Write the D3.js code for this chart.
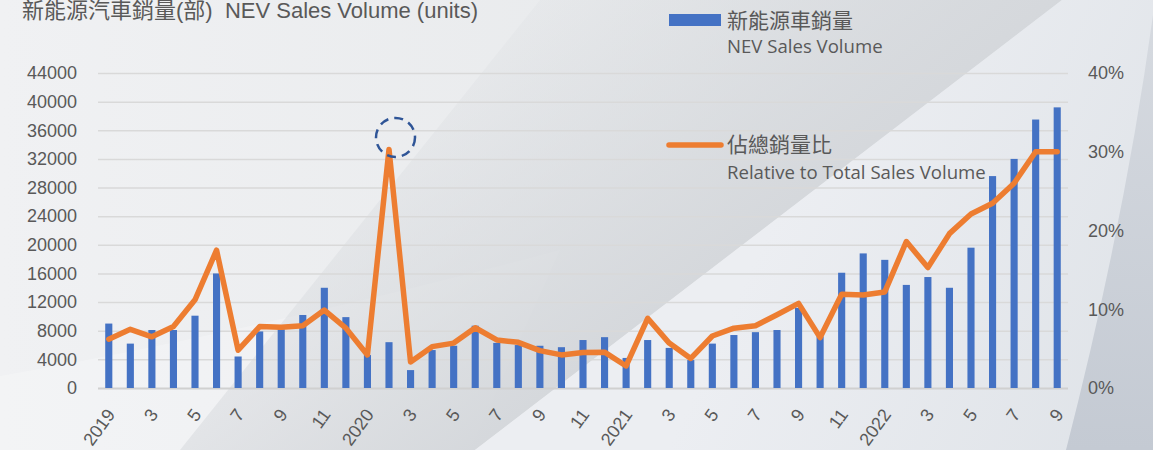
<!DOCTYPE html>
<html lang="zh-Hant">
<head>
<meta charset="utf-8">
<title>NEV Sales Volume</title>
<script src="https://cdn.jsdelivr.net/npm/d3@7"></script>
<style>
  html, body { margin: 0; padding: 0; overflow: hidden; }
  svg { display: block; }
</style>
</head>
<body>
<script>

// monthly data, 2019-01 .. 2022-09
var months = d3.range(45);
var sales = [
  9000, 6200, 8100, 8100, 10100, 16000, 4400, 7900, 8200, 10200, 14000, 9900,
  4600, 6400, 2500, 5300, 5900, 8700, 6300, 6000, 5900, 5700, 6700, 7100,
  4200, 6700, 5600, 3900, 6200, 7400, 7800, 8100, 11200, 7200, 16100, 18800,
  17900, 14400, 15500, 14000, 19600, 29600, 32000, 37500, 39200
];
var share = [
  6.2, 7.45, 6.5, 7.8, 11.2, 17.5, 4.8, 7.8, 7.7, 7.9, 9.9, 7.6,
  4.2, 30.3, 3.3, 5.25, 5.7, 7.65, 6.1, 5.8, 4.75, 4.2, 4.5, 4.55,
  2.8, 8.85, 5.7, 3.75, 6.6, 7.6, 7.9, 9.3, 10.75, 6.4, 11.9, 11.8,
  12.2, 18.6, 15.3, 19.6, 22.1, 23.45, 26.0, 30.0, 30.0
];
var xLabels = ["2019", "3", "5", "7", "9", "11", "2020", "3", "5", "7", "9", "11",
               "2021", "3", "5", "7", "9", "11", "2022", "3", "5", "7", "9"];
var leftTicks = d3.range(0, 44001, 4000);
var rightTicks = [0, 0.1, 0.2, 0.3, 0.4];

var width = 1153;
var height = 450;
var plotLeft = 98, plotRight = 1068, plotTop = 73, plotBottom = 388;

var svg = d3.select("body").append("svg")
            .attr("width", width)
            .attr("height", height);

// ---- background ----
var defs = svg.append("defs");

var bg = defs.append("linearGradient").attr("id", "bg")
             .attr("x1", 0).attr("y1", 0).attr("x2", 1).attr("y2", 0);
bg.append("stop").attr("offset", 0).attr("stop-color", "#f0f1f3");
bg.append("stop").attr("offset", 0.6).attr("stop-color", "#e8eaec");
bg.append("stop").attr("offset", 1).attr("stop-color", "#dfe2e6");

var shadow = defs.append("linearGradient").attr("id", "shadow")
                 .attr("gradientUnits", "userSpaceOnUse")
                 .attr("x1", 770).attr("y1", 225).attr("x2", 540).attr("y2", -80);
shadow.append("stop").attr("offset", 0).attr("stop-color", "#d4d7db").attr("stop-opacity", 0.95);
shadow.append("stop").attr("offset", 1).attr("stop-color", "#d4d7db").attr("stop-opacity", 0);

var lightSide = defs.append("linearGradient").attr("id", "lightSide")
                    .attr("gradientUnits", "userSpaceOnUse")
                    .attr("x1", 770).attr("y1", 225).attr("x2", 1153).attr("y2", 400);
lightSide.append("stop").attr("offset", 0).attr("stop-color", "#eceef2");
lightSide.append("stop").attr("offset", 1).attr("stop-color", "#dfe3e8");

var edge = defs.append("linearGradient").attr("id", "edge")
               .attr("x1", 0).attr("y1", 0).attr("x2", 0).attr("y2", 1);
edge.append("stop").attr("offset", 0).attr("stop-color", "#d6dae0");
edge.append("stop").attr("offset", 1).attr("stop-color", "#c4cad3");

svg.append("rect").attr("width", width).attr("height", height).attr("fill", "url(#bg)");
svg.append("path").attr("d", "M0,376 Q260,330 560,250 L470,450 L0,450 Z")
   .attr("fill", "#ffffff").attr("opacity", 0.22);
svg.append("path").attr("d", "M540,0 L1062,0 L475,450 L180,450 Z")
   .attr("fill", "url(#shadow)");
svg.append("path").attr("d", "M1062,0 L1153,0 L1153,450 L475,450 Z")
   .attr("fill", "url(#lightSide)");
svg.append("path").attr("d", "M1153,15 Q1125,220 1066,450 L1153,450 Z")
   .attr("fill", "url(#edge)");

// ---- scales ----
var x = d3.scaleBand()
          .domain(months)
          .range([plotLeft, plotRight])
          .paddingInner(0.67)
          .paddingOuter(0.335);

var y = d3.scaleLinear().domain([0, 44000]).range([plotBottom, plotTop]);
var yR = d3.scaleLinear().domain([0, 0.4]).range([plotBottom, plotTop]);

function cx(i) { return x(i) + x.bandwidth() / 2; }

// ---- axes / grid ----
var gLeft = svg.append("g")
               .attr("transform", "translate(" + plotLeft + ",0)")
               .call(d3.axisLeft(y).tickValues(leftTicks)
                       .tickSize(-(plotRight - plotLeft)).tickPadding(21)
                       .tickFormat(d3.format("d")));
gLeft.select(".domain").remove();
gLeft.selectAll("line")
     .attr("stroke", function(d) { return d === 0 ? "#d0d0d0" : "#d9d9d9"; })
     .attr("stroke-width", function(d) { return d === 0 ? 2 : 1.5; });
gLeft.selectAll("text")
     .attr("font-family", "'Liberation Sans', Arial, sans-serif")
     .attr("font-size", 18)
     .attr("fill", "#595959");

var gRight = svg.append("g")
                .attr("transform", "translate(" + plotRight + ",0)")
                .call(d3.axisRight(yR).tickValues(rightTicks)
                        .tickSize(0).tickPadding(20).tickFormat(d3.format(".0%")));
gRight.select(".domain").remove();
gRight.selectAll("text")
      .attr("font-family", "'Liberation Sans', Arial, sans-serif")
      .attr("font-size", 18)
      .attr("fill", "#595959");

// x labels every second month
svg.append("g").selectAll("text")
   .data(xLabels)
   .enter()
   .append("text")
   .attr("transform", function(d, i) {
     return "translate(" + (cx(i * 2) + 2) + ",411) rotate(-54)";
   })
   .attr("text-anchor", "end")
   .attr("dy", "0.35em")
   .attr("font-family", "'Liberation Sans', Arial, sans-serif")
   .attr("font-size", 18)
   .attr("fill", "#595959")
   .text(function(d) { return d; });

// ---- bars ----
svg.append("g").selectAll("rect")
   .data(sales)
   .enter()
   .append("rect")
   .attr("x", function(d, i) { return x(i); })
   .attr("y", function(d) { return y(d); })
   .attr("width", x.bandwidth())
   .attr("height", function(d) { return y(0) - y(d); })
   .attr("fill", "#4472c4");

// ---- line ----
var line = d3.line()
             .x(function(d, i) { return cx(i); })
             .y(function(d) { return yR(d / 100); });

svg.append("path")
   .datum(share)
   .attr("d", line)
   .attr("fill", "none")
   .attr("stroke", "#ed7d31")
   .attr("stroke-width", 5.5)
   .attr("stroke-linejoin", "round")
   .attr("stroke-linecap", "round");

// dashed circle around the 2020-02 peak
var peak = 13;
svg.append("circle")
   .attr("cx", cx(peak) + 6.5)
   .attr("cy", yR(share[peak] / 100) - 12)
   .attr("r", 19.5)
   .attr("fill", "none")
   .attr("stroke", "#2f5597")
   .attr("stroke-width", 2.5)
   .attr("stroke-dasharray", "9 6");

// ---- title ----
svg.append("text")
   .attr("x", 22)
   .attr("y", 18)
   .attr("font-family", "'Liberation Sans', 'Noto Sans CJK TC', sans-serif")
   .attr("font-size", 22)
   .attr("fill", "#595959")
   .attr("xml:space", "preserve")
   .text("新能源汽車銷量(部)  NEV Sales Volume (units)");

// ---- legend ----
var legend = svg.append("g");
legend.append("rect")
      .attr("x", 669).attr("y", 14).attr("width", 52).attr("height", 12)
      .attr("fill", "#4472c4");
legend.append("text")
      .attr("x", 727).attr("y", 28)
      .attr("font-family", "'Noto Sans CJK TC', sans-serif")
      .attr("font-size", 21)
      .attr("fill", "#595959")
      .text("新能源車銷量");
legend.append("text")
      .attr("x", 727).attr("y", 53)
      .attr("font-family", "'Open Sans', sans-serif")
      .attr("font-size", 18.6)
      .attr("fill", "#595959")
      .text("NEV Sales Volume");

legend.append("line")
      .attr("x1", 669).attr("x2", 721).attr("y1", 145).attr("y2", 145)
      .attr("stroke", "#ed7d31")
      .attr("stroke-width", 5.5)
      .attr("stroke-linecap", "round");
legend.append("text")
      .attr("x", 727).attr("y", 152)
      .attr("font-family", "'Noto Sans CJK TC', sans-serif")
      .attr("font-size", 21)
      .attr("fill", "#595959")
      .text("佔總銷量比");
legend.append("text")
      .attr("x", 727).attr("y", 179)
      .attr("font-family", "'Open Sans', sans-serif")
      .attr("font-size", 18.6)
      .attr("fill", "#595959")
      .text("Relative to Total Sales Volume");

</script>
</body>
</html>
